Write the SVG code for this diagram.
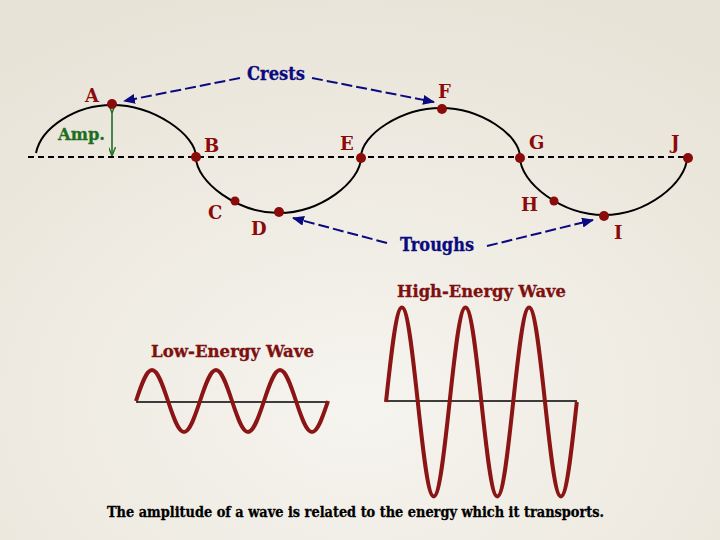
<svg xmlns="http://www.w3.org/2000/svg" width="720" height="540" viewBox="0 0 720 540">
<defs>
<radialGradient id="bg" cx="0.5" cy="0.75" r="0.8">
<stop offset="0" stop-color="#F6F4EF"/>
<stop offset="1" stop-color="#E8E3D7"/>
</radialGradient>
<marker id="ah" viewBox="0 0 12 10" refX="11" refY="5" markerWidth="12" markerHeight="10" markerUnits="userSpaceOnUse" orient="auto">
<path d="M0,0 L12,5 L0,10 Z" fill="#0A0A80"/>
</marker>
<marker id="gh" viewBox="0 0 10 8" refX="9" refY="4" markerWidth="9" markerHeight="7" markerUnits="userSpaceOnUse" orient="auto">
<path d="M0,0 L10,4 L0,8" fill="none" stroke="#1E6E1E" stroke-width="1.6"/>
</marker>
<style>
.lbl{font-family:"DejaVu Serif","Liberation Serif",serif;font-weight:bold;font-size:18px;fill:#8B0A0A}
.blu{font-family:"DejaVu Serif","Liberation Serif",serif;font-weight:bold;font-size:18px;fill:#0A0A80;stroke:#0A0A80;stroke-width:0.3}
.ttl{font-family:"DejaVu Serif","Liberation Serif",serif;font-weight:bold;font-size:16px;fill:#7E1010;stroke:#7E1010;stroke-width:0.3}
.cap{font-family:"DejaVu Serif","Liberation Serif",serif;font-weight:bold;font-size:15px;fill:#000;stroke:#000;stroke-width:0.3}
.dot{fill:#8B0A0A}
.conn{stroke:#0A0A80;stroke-width:2;fill:none;stroke-dasharray:11,4;marker-end:url(#ah)}
.rw{fill:none;stroke:#8B1414;stroke-width:4;stroke-linejoin:round}
.axis{stroke:#000;stroke-width:1.3}
</style>
</defs>
<rect width="720" height="540" fill="url(#bg)"/>

<g id="main-wave">
<line x1="28" y1="157" x2="692" y2="157" stroke="#000" stroke-width="2" stroke-dasharray="6,4"/>
<path d="M36,153 C41,128 75,105 112,105 C154,105 196,135 196,157 C196,182 237.5,213 279,213 C320,213 361,182 361,157 C361,135 401,108 441,108 C480.5,108 520,135 520,157 C520,183 562,215 604,215 C646,215 687,183 687,157" fill="none" stroke="#000" stroke-width="2"/>
</g>

<g id="amp">
<line x1="112" y1="112" x2="112" y2="155" stroke="#1E6E1E" stroke-width="1.6" marker-start="url(#gh)" marker-end="url(#gh)"/>
<text x="58" y="140" font-family="DejaVu Serif, Liberation Serif, serif" font-weight="bold" font-size="17" fill="#1E6E1E" stroke="#1E6E1E" stroke-width="0.3" textLength="47" lengthAdjust="spacingAndGlyphs">Amp.</text>
</g>

<g id="connectors">
<line class="conn" x1="240" y1="78" x2="124" y2="101"/>
<line class="conn" x1="312" y1="78" x2="434" y2="102"/>
<line class="conn" x1="387" y1="243" x2="293" y2="218"/>
<line class="conn" x1="487" y1="246" x2="593" y2="220"/>
</g>

<g id="crests"><text class="blu" x="247" y="80" textLength="58" lengthAdjust="spacingAndGlyphs">Crests</text></g>
<g id="troughs"><text class="blu" x="400" y="251" textLength="74" lengthAdjust="spacingAndGlyphs">Troughs</text></g>

<g id="A"><circle class="dot" cx="112" cy="104" r="5"/><text class="lbl" x="85" y="102">A</text></g>
<g id="B"><circle class="dot" cx="196" cy="157" r="5"/><text class="lbl" x="204" y="152">B</text></g>
<g id="C"><circle class="dot" cx="235" cy="201" r="4.5"/><text class="lbl" x="208" y="219">C</text></g>
<g id="D"><circle class="dot" cx="279" cy="212" r="5"/><text class="lbl" x="251" y="235">D</text></g>
<g id="E"><circle class="dot" cx="361" cy="158" r="5"/><text class="lbl" x="340" y="150">E</text></g>
<g id="F"><circle class="dot" cx="442" cy="109" r="5"/><text class="lbl" x="438" y="98">F</text></g>
<g id="G"><circle class="dot" cx="520" cy="158" r="5"/><text class="lbl" x="529" y="149">G</text></g>
<g id="H"><circle class="dot" cx="554" cy="201" r="4.5"/><text class="lbl" x="521" y="211">H</text></g>
<g id="I"><circle class="dot" cx="604" cy="216" r="5"/><text class="lbl" x="614" y="239">I</text></g>
<g id="J"><circle class="dot" cx="688" cy="158" r="5"/><text class="lbl" x="671" y="149">J</text></g>

<g id="low-energy">
<text class="ttl" x="151" y="357" textLength="163" lengthAdjust="spacingAndGlyphs">Low-Energy Wave</text>
<line class="axis" x1="136" y1="402" x2="328" y2="402"/>
<path class="rw" d="M136,401 c5.22,-15.88 10.21,-31 16,-31 s10.78,15.12 16,31 s10.21,31 16,31 s10.78,-15.12 16,-31 s10.21,-31 16,-31 s10.78,15.12 16,31 s10.21,31 16,31 s10.78,-15.12 16,-31 s10.21,-31 16,-31 s10.78,15.12 16,31 s10.21,31 16,31 s10.78,-15.12 16,-31"/>
</g>

<g id="high-energy">
<text class="ttl" x="397" y="297" textLength="169" lengthAdjust="spacingAndGlyphs">High-Energy Wave</text>
<line class="axis" x1="386" y1="401" x2="577" y2="401"/>
<path class="rw" d="M386,402 c5.19,-48.41 10.15,-94.5 15.9,-94.5 s10.71,46.09 15.9,94.5 s10.15,94.5 15.9,94.5 s10.71,-46.09 15.9,-94.5 s10.15,-94.5 15.9,-94.5 s10.71,46.09 15.9,94.5 s10.15,94.5 15.9,94.5 s10.71,-46.09 15.9,-94.5 s10.15,-94.5 15.9,-94.5 s10.71,46.09 15.9,94.5 s10.15,94.5 15.9,94.5 s10.71,-46.09 15.9,-94.5"/>
</g>

<g id="caption">
<text class="cap" x="107" y="517" textLength="497" lengthAdjust="spacingAndGlyphs">The amplitude of a wave is related to the energy which it transports.</text>
</g>
</svg>
